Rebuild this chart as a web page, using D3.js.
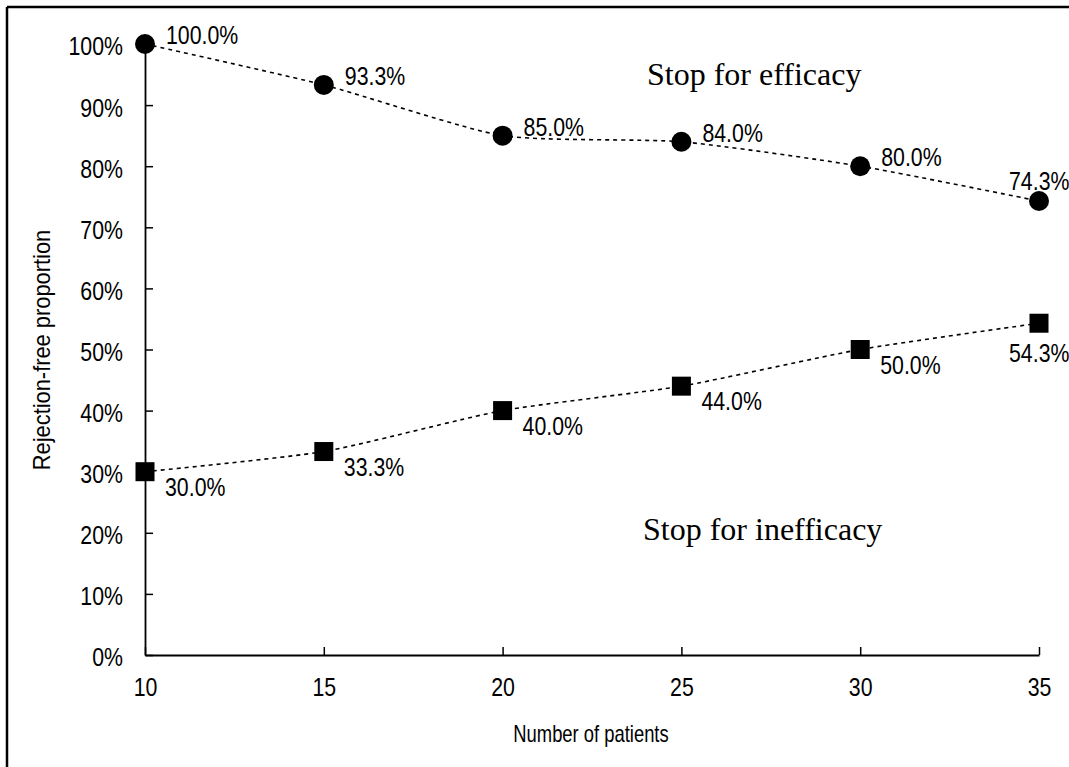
<!DOCTYPE html>
<html>
<head>
<meta charset="utf-8">
<script src="https://cdn.jsdelivr.net/npm/d3@7"></script>
<style>
  body { margin: 0; background: #fff; }
  .num { font-family: "Liberation Sans", Arial, sans-serif; fill: #000; }
  .note { font-family: "Liberation Serif", serif; fill: #000; }
</style>
</head>
<body>
<div class="chart"></div>
<script>
var patients = [10, 15, 20, 25, 30, 35];
var efficacy = [100.0, 93.3, 85.0, 84.0, 80.0, 74.3];
var inefficacy = [30.0, 33.3, 40.0, 44.0, 50.0, 54.3];
var yTicks = [0, 10, 20, 30, 40, 50, 60, 70, 80, 90, 100];
var xTitle = "Number of patients";
var yTitle = "Rejection-free proportion";

var W = 1069, H = 767;
var SX = 0.82;   // horizontal squeeze to mimic the narrow gothic font

var svg = d3.select(".chart").append("svg")
    .attr("width", W)
    .attr("height", H);

svg.append("rect").attr("width", W).attr("height", H).attr("fill", "#fff");

// outer frame (only top and left show)
svg.append("line").attr("x1", 7).attr("x2", W).attr("y1", 7).attr("y2", 7)
  .style("stroke", "#000").style("stroke-width", 2.5);
svg.append("line").attr("x1", 7).attr("x2", 7).attr("y1", 7).attr("y2", H)
  .style("stroke", "#000").style("stroke-width", 2.5);

var x = d3.scaleLinear().domain([10, 35]).range([145, 1039]);
var y = d3.scaleLinear().domain([0, 100]).range([655, 44]);

// squeeze a text horizontally around its own anchor point
function condense(sel, sx) {
  sel.each(function() {
    var t = d3.select(this);
    var xv = +t.attr("x") || 0;
    var yv = +t.attr("y") || 0;
    t.attr("x", 0).attr("y", 0)
     .attr("transform", "translate(" + xv + "," + yv + ") scale(" + sx + ",1)");
  });
}

// axes
var xAxis = d3.axisBottom(x).tickValues(patients).tickSizeInner(-8).tickSizeOuter(0).tickPadding(18);
var yAxis = d3.axisLeft(y).tickValues(yTicks).tickSizeInner(-8).tickSizeOuter(0)
    .tickPadding(22).tickFormat(function(d) { return d + "%"; });

var gx = svg.append("g").attr("transform", "translate(0," + y(0) + ")").call(xAxis);
var gy = svg.append("g").attr("transform", "translate(" + x(10) + ",0)").call(yAxis);

[gx, gy].forEach(function(g) {
  g.select(".domain").style("stroke", "#000").style("stroke-width", 1.8);
  g.selectAll(".tick line").style("stroke", "#000").style("stroke-width", 1.5);
  g.selectAll(".tick text").attr("class", "num").style("font-size", "26px").style("fill", "#000");
});
gx.selectAll(".tick text").attr("dy", "0.9em");
gy.selectAll(".tick text").attr("dy", "0.42em");
condense(gx.selectAll(".tick text"), SX);
condense(gy.selectAll(".tick text"), SX);

// axis titles
svg.append("text").attr("class", "num")
  .attr("x", (x(10) + x(35)) / 2 - 1).attr("y", 742)
  .attr("text-anchor", "middle")
  .style("font-size", "23px")
  .text(xTitle)
  .call(condense, 0.8);

svg.append("text").attr("class", "num")
  .attr("transform", "translate(50,350) rotate(-90) scale(0.95,1)")
  .attr("text-anchor", "middle")
  .style("font-size", "23px")
  .text(yTitle);

var line = d3.line()
  .x(function(d) { return x(d[0]); })
  .y(function(d) { return y(d[1]); })
  .curve(d3.curveCardinal.tension(0.4));

var effData = patients.map(function(p, i) { return [p, efficacy[i]]; });
var ineffData = patients.map(function(p, i) { return [p, inefficacy[i]]; });

[effData, ineffData].forEach(function(data) {
  svg.append("path")
    .datum(data)
    .attr("d", line)
    .style("fill", "none")
    .style("stroke", "#000")
    .style("stroke-width", 1.6)
    .style("stroke-dasharray", "4,4");
});

// markers
svg.selectAll(".eff-pt")
  .data(effData)
  .enter().append("circle")
    .attr("class", "eff-pt")
    .attr("cx", function(d) { return x(d[0]); })
    .attr("cy", function(d) { return y(d[1]); })
    .attr("r", 10)
    .style("fill", "#000");

svg.selectAll(".ineff-pt")
  .data(ineffData)
  .enter().append("rect")
    .attr("class", "ineff-pt")
    .attr("x", function(d) { return x(d[0]) - 9.5; })
    .attr("y", function(d) { return y(d[1]) - 9.5; })
    .attr("width", 19)
    .attr("height", 19)
    .style("fill", "#000");

// data labels (pushed back inside when they would run off the right edge)
var labelW = 59;
function fits(px) { return px + 21 + labelW < W - 1; }

svg.selectAll(".eff-lbl")
  .data(effData)
  .enter().append("text")
    .attr("class", "num")
    .style("font-size", "26px")
    .attr("x", function(d) { return fits(x(d[0])) ? x(d[0]) + 21 : W - 1 - labelW; })
    .attr("y", function(d) { return y(d[1]) + (fits(x(d[0])) ? 0 : -11); })
    .text(function(d) { return d[1].toFixed(1) + "%"; })
    .call(condense, SX);

svg.selectAll(".ineff-lbl")
  .data(ineffData)
  .enter().append("text")
    .attr("class", "num")
    .style("font-size", "26px")
    .attr("x", function(d) { return fits(x(d[0])) ? x(d[0]) + 20 : W - 1 - labelW; })
    .attr("y", function(d) { return y(d[1]) + (fits(x(d[0])) ? 24 : 39); })
    .text(function(d) { return d[1].toFixed(1) + "%"; })
    .call(condense, SX);

// region notes
svg.append("text").attr("class", "note")
  .attr("x", 647).attr("y", 85)
  .style("font-size", "32px")
  .text("Stop for efficacy");

svg.append("text").attr("class", "note")
  .attr("x", 643).attr("y", 540)
  .style("font-size", "32px")
  .text("Stop for inefficacy");
</script>
</body>
</html>
